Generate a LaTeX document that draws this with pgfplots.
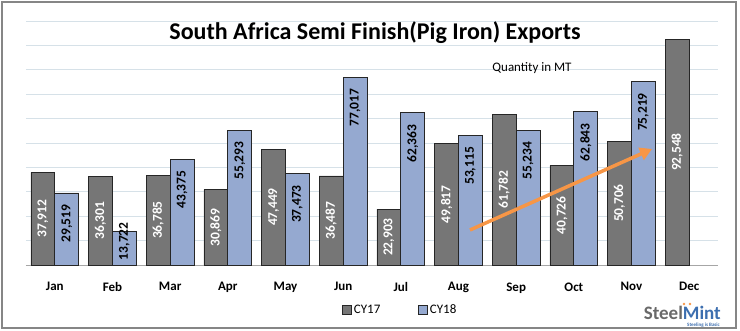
\documentclass[border=0pt]{standalone}
\usepackage{pgfplots}
\pgfplotsset{compat=1.18}
\usepackage{fontspec}
\setmainfont{Carlito}
\usetikzlibrary{arrows.meta}
\definecolor{cyA}{RGB}{118,118,118}
\definecolor{cyB}{RGB}{149,169,208}
\definecolor{gridc}{RGB}{214,225,232}
\definecolor{borderc}{RGB}{134,134,134}
\definecolor{arrowc}{RGB}{247,150,70}
\definecolor{logoblue}{RGB}{60,110,175}
\definecolor{logogray}{RGB}{105,105,105}
\begin{document}
\begin{tikzpicture}[x=1pt,y=1pt]
\useasboundingbox (0,0) rectangle (740,330);
\draw[borderc, line width=1.2pt] (2,2) rectangle (736,328);
\begin{axis}[
  at={(26pt,65pt)}, anchor=south west, scale only axis,
  width=692pt, height=244pt,
  xmin=-0.5, xmax=11.5, ymin=0, ymax=100000,
  ybar=0pt, bar width=0.415,
  xtick={0,...,11},
  xticklabels={Jan,Feb,Mar,Apr,May,Jun,Jul,Aug,Sep,Oct,Nov,Dec},
  xticklabel style={font=\bfseries\fontsize{13}{15}\selectfont, yshift=-14pt},
  ytick={0,10000,...,100000}, yticklabels={},
  ymajorgrids, grid style={gridc, line width=0.8pt},
  axis x line*=bottom, axis y line*=left,
  x axis line style={color=gray!70, line width=0.8pt},
  y axis line style={draw=none},
  major tick length=0pt,
  scaled y ticks=false,
  /pgf/number format/assume math mode=true,
  /pgf/number format/1000 sep={,},
  legend style={at={(0.541,-0.184)}, anchor=center, draw=none, fill=none,
    legend columns=2, font=\fontsize{13}{15}\selectfont,
    /tikz/every even column/.append style={column sep=36pt}},
  legend image code/.code={\draw[#1, line width=0.6pt] (0pt,-4.5pt) rectangle (9pt,4.5pt);},
  clip=false,
]
\addplot[fill=cyA, draw=black!85, line width=0.8pt,
  nodes near coords, point meta=y,
  visualization depends on={y \as \rawy},
  every node near coord/.append style={font=\bfseries\fontsize{13.5}{15}\selectfont, color=white,
    shift={(axis direction cs:0,-\rawy/2)}, rotate=90, anchor=center}]
  coordinates {(0,37912) (1,36301) (2,36785) (3,30869) (4,47449) (5,36487)
               (6,22903) (7,49817) (8,61782) (9,40726) (10,50706) (11,92548)};
\addplot[fill=cyB, draw=black!85, line width=0.8pt,
  nodes near coords, point meta=y,
  visualization depends on={max(y-3280,19000)-y \as \dy},
  every node near coord/.append style={font=\bfseries\fontsize{13.5}{15}\selectfont, color=black,
    shift={(axis direction cs:0,\dy)}, rotate=90, anchor=east}]
  coordinates {(0,29519) (1,13722) (2,43375) (3,55293) (4,37473) (5,77017)
               (6,62363) (7,53115) (8,55234) (9,62843) (10,75219)};
\legend{CY17,CY18}
\end{axis}
\node[font=\bfseries\fontsize{24}{28}\selectfont] at (375,297) {South Africa Semi Finish(Pig Iron) Exports};
\node[font=\fontsize{13}{15}\selectfont] at (532,262) {Quantity in MT};
\draw[arrowc, line width=3.5pt, -{Triangle[length=12pt,width=13pt]}] (470,100) -- (652,181);
\node[font=\bfseries\fontsize{19}{20}\selectfont, anchor=base east, inner sep=0pt] at (721,11)
  {\textcolor{logogray}{Steel}\textcolor{logoblue}{Mint}};
\fill[arrowc] (684,26) circle (1.4);
\fill[arrowc] (690,26) circle (1.4);
\node[font=\bfseries\fontsize{5}{6}\selectfont, text=logoblue, anchor=base east, inner sep=0pt] at (720,4) {Steeling is Basic};
\end{tikzpicture}
\end{document}
